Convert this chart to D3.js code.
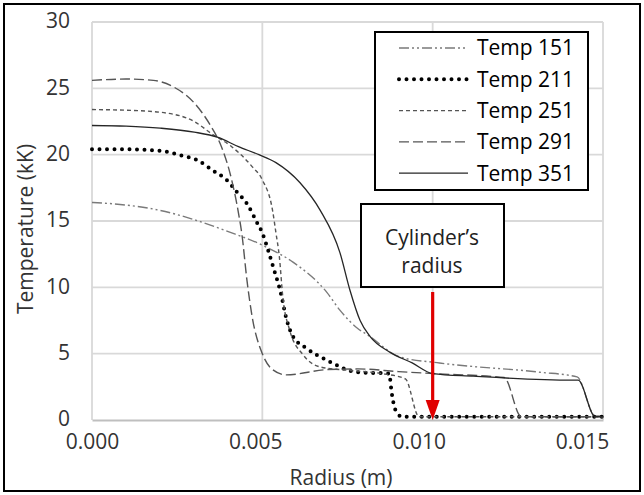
<!DOCTYPE html>
<html>
<head>
<meta charset="utf-8">
<script src="https://cdn.jsdelivr.net/npm/d3@7"></script>
<style>
  html, body { margin: 0; padding: 0; background: #fff; }
  svg { display: block; font-family: "Open Sans", sans-serif; }
</style>
</head>
<body>
<svg id="chart" width="644" height="495"></svg>
<script>
// ---- data (radius in m, temperature in kK) ----
const xTicks = [0, 0.005, 0.010, 0.015];
const xTickLabels = ["0.000", "0.005", "0.010", "0.015"];
const yTicks = [0, 5, 10, 15, 20, 25, 30];

const r151 = [0, 0.001, 0.002, 0.003, 0.004, 0.0049, 0.00514, 0.0059, 0.0069, 0.00727, 0.0078, 0.0081, 0.00904, 0.0102, 0.01315, 0.01424, 0.01477, 0.015];
const t151 = [16.4, 16.2, 15.8, 15.1, 14.2, 13.3, 13.0, 11.9, 9.6, 8.3, 6.9, 6.4, 4.75, 4.3, 3.6, 3.25, 0.3, 0.3];

const r211 = [0, 0.001, 0.002, 0.00267, 0.00308, 0.00355, 0.00395, 0.00425, 0.00455, 0.00484, 0.005, 0.00517, 0.00537, 0.00552, 0.00572, 0.0059, 0.0063, 0.0069, 0.0078, 0.00872, 0.0088, 0.0089, 0.0091, 0.015];
const t211 = [20.4, 20.4, 20.3, 19.9, 19.6, 18.8, 18.1, 17.2, 16.3, 14.9, 14.1, 12.8, 11.1, 9.8, 7.5, 6.3, 5.4, 4.5, 3.6, 3.5, 2.0, 0.8, 0.25, 0.25];

const r251 = [0, 0.001, 0.002, 0.003, 0.0035, 0.0041, 0.0047, 0.005, 0.0053, 0.0054, 0.0055, 0.0056, 0.0058, 0.0062, 0.0067, 0.0075, 0.0085, 0.0092, 0.0096, 0.015];
const t251 = [23.4, 23.35, 23.2, 22.5, 21.6, 20.6, 19.1, 18.1, 15.8, 14.1, 12.3, 9.3, 6.8, 4.9, 4.0, 3.75, 3.5, 3.1, 0.25, 0.25];

const r291 = [0, 0.001, 0.0018, 0.0024, 0.003, 0.0035, 0.0038, 0.0041, 0.0043, 0.0044, 0.00455, 0.0047, 0.005, 0.0053, 0.0057, 0.0069, 0.0078, 0.009, 0.010, 0.0121, 0.0126, 0.015];
const t291 = [25.6, 25.7, 25.6, 25.1, 23.9, 22.1, 20.6, 18.1, 15.6, 14.0, 10.5, 7.8, 5.0, 3.8, 3.4, 3.8, 3.85, 3.65, 3.5, 3.2, 0.25, 0.25];

const r351 = [0, 0.001, 0.002, 0.003, 0.0037, 0.0043, 0.0049, 0.0054, 0.0061, 0.0067, 0.00728, 0.00757, 0.00787, 0.00816, 0.00875, 0.0094, 0.010, 0.0112, 0.0141, 0.01427, 0.01477, 0.015];
const t351 = [22.2, 22.15, 22.0, 21.7, 21.3, 20.6, 20.0, 19.4, 17.9, 15.8, 12.6, 9.8, 7.5, 6.3, 5.1, 4.3, 3.5, 3.3, 3.0, 3.0, 0.25, 0.25];

const seriesNames = ["Temp 151", "Temp 211", "Temp 251", "Temp 291", "Temp 351"];
const seriesR = [r151, r211, r251, r291, r351];
const seriesT = [t151, t211, t251, t291, t351];

const annotationLines = ["Cylinder\u2019s", "radius"];
const annotationR = 0.010;

// ---- styles ----
const styles = [
  { color: "#7a7a7a", width: 1.4, dash: "10,3,2,3,2,3", cap: "butt" },
  { color: "#000000", width: 4,   dash: "0,7.5",        cap: "round" },
  { color: "#555555", width: 1.4, dash: "4,3",          cap: "butt" },
  { color: "#555555", width: 1.4, dash: "10,4",         cap: "butt" },
  { color: "#262626", width: 1.3, dash: null,           cap: "butt" }
];

const svg = d3.select("#chart");
const pLeft = 92, pRight = 603, pTop = 22, pBottom = 420;

const x = d3.scaleLinear().domain([0, 0.015]).range([pLeft, pRight]);
const y = d3.scaleLinear().domain([0, 30]).range([pBottom, pTop]);

// outer frame
svg.append("rect").attr("x", 4).attr("y", 4).attr("width", 636).attr("height", 487)
  .attr("fill", "#fff").attr("stroke", "#000").attr("stroke-width", 2);

// gridlines
svg.append("g").selectAll("line").data(yTicks.filter(d => d > 0)).join("line")
  .attr("x1", pLeft).attr("x2", pRight)
  .attr("y1", d => y(d)).attr("y2", d => y(d))
  .attr("stroke", "#d9d9d9").attr("stroke-width", 1.8);
svg.append("g").selectAll("line").data(xTicks).join("line")
  .attr("x1", d => x(d)).attr("x2", d => x(d))
  .attr("y1", pTop).attr("y2", pBottom)
  .attr("stroke", "#d9d9d9").attr("stroke-width", 1.8);

// axes
const xAxis = d3.axisBottom(x).tickValues(xTicks)
  .tickFormat((d, i) => xTickLabels[i]).tickSize(0).tickPadding(14);
const gx = svg.append("g").attr("transform", `translate(0,${pBottom})`).call(xAxis);
gx.select(".domain").attr("stroke", "#bfbfbf").attr("stroke-width", 1.8);
gx.selectAll("text").attr("font-size", 21).attr("fill", "#333")
  .attr("font-family", "Open Sans, sans-serif")
  .attr("dx", d => -(d / 0.005) * 7);

const yAxis = d3.axisLeft(y).tickValues(yTicks).tickSize(0).tickPadding(22);
const gy = svg.append("g").attr("transform", `translate(${pLeft},0)`).call(yAxis);
gy.select(".domain").remove();
gy.selectAll("text").attr("font-size", 21).attr("fill", "#333")
  .attr("font-family", "Open Sans, sans-serif").attr("dy", "0.28em");

// axis titles
svg.append("text").attr("x", 341).attr("y", 485).attr("text-anchor", "middle")
  .attr("font-size", 21).attr("fill", "#333").text("Radius (m)");
svg.append("text").attr("transform", "translate(33,229) rotate(-90)")
  .attr("text-anchor", "middle").attr("font-size", 21).attr("fill", "#333")
  .text("Temperature (kK)");

// lines
const line = d3.line().x(d => x(d[0])).y(d => y(d[1])).curve(d3.curveMonotoneX);
seriesNames.forEach((name, i) => {
  const pts = seriesR[i].map((r, k) => [r, seriesT[i][k]]);
  const s = styles[i];
  svg.append("path").datum(pts).attr("d", line)
    .attr("fill", "none").attr("stroke", s.color).attr("stroke-width", s.width)
    .attr("stroke-dasharray", s.dash).attr("stroke-linecap", s.cap)
    .attr("stroke-linejoin", "round");
});

// legend
const lg = svg.append("g");
lg.append("rect").attr("x", 375).attr("y", 32).attr("width", 213).attr("height", 158)
  .attr("fill", "#fff").attr("stroke", "#000").attr("stroke-width", 2);
seriesNames.forEach((name, i) => {
  const cy = 48 + i * 31.3;
  const s = styles[i];
  lg.append("line").attr("x1", 399).attr("x2", 468).attr("y1", cy).attr("y2", cy)
    .attr("stroke", s.color).attr("stroke-width", s.width)
    .attr("stroke-dasharray", s.dash).attr("stroke-linecap", s.cap);
  lg.append("text").attr("x", 477).attr("y", cy).attr("dy", "0.35em")
    .attr("font-size", 21).attr("fill", "#000").text(name);
});

// annotation
const ag = svg.append("g");
ag.append("rect").attr("x", 361).attr("y", 204).attr("width", 143).attr("height", 83)
  .attr("fill", "#fff").attr("stroke", "#000").attr("stroke-width", 2);
annotationLines.forEach((t, i) => {
  ag.append("text").attr("x", 432).attr("y", 238 + i * 28).attr("dy", "0.35em")
    .attr("text-anchor", "middle").attr("font-size", 21).attr("fill", "#222").text(t);
});
const ax = x(annotationR);
ag.append("line").attr("x1", ax).attr("x2", ax).attr("y1", 292).attr("y2", 402)
  .attr("stroke", "#e00000").attr("stroke-width", 3.2);
ag.append("path")
  .attr("d", `M${ax - 7},400 L${ax + 7},400 L${ax},${y(0)} Z`)
  .attr("fill", "#e00000");
</script>
</body>
</html>
